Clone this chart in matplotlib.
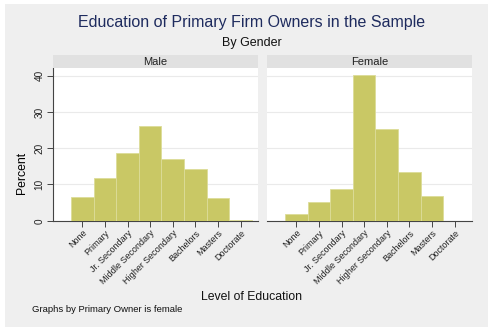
import numpy as np
import matplotlib
matplotlib.use("Agg")
import matplotlib.pyplot as plt
from matplotlib.patches import Rectangle

plt.rcParams['font.family'] = ['Liberation Sans', 'DejaVu Sans']

levels = ['None', 'Primary', 'Jr. Secondary', 'Middle Secondary',
          'Higher Secondary', 'Bachelors', 'Masters', 'Doctorate']
male_pct = [6.6, 11.7, 18.6, 26.2, 17.0, 14.3, 6.2, 0.3]
female_pct = [1.8, 5.1, 8.7, 40.2, 25.2, 13.4, 6.8, 0.0]
panels = ['Male', 'Female']
yticks = [0, 10, 20, 30, 40]

W, H = 495, 335
fig = plt.figure(figsize=(W / 100, H / 100), dpi=100)
fig.patch.set_facecolor('white')

# gray graph region
fig.patches.append(Rectangle((5 / W, 1 - 327 / H), 483 / W, 323 / H,
                             transform=fig.transFigure, facecolor='#efefef',
                             edgecolor='none', zorder=-10))

bar_color = '#c9c865'
lefts = [53, 267]

for i, vals in enumerate([male_pct, female_pct]):
    x0 = lefts[i] / W
    w = 205 / W
    ax = fig.add_axes([x0, 1 - 220.7 / H, w, (220.7 - 68) / H])
    ax.set_facecolor('white')
    x = np.arange(len(levels))
    ax.bar(x, vals, width=1.0, color=bar_color, edgecolor='#dcdc98',
           linewidth=0.6, zorder=3)
    ax.set_xlim(-1.3, 7.77)
    ax.set_ylim(0, 42.1)
    ax.set_yticks(yticks)
    ax.grid(axis='y', color='#eaeaea', linewidth=0.8, zorder=0)
    ax.set_axisbelow(True)
    ax.set_xticks(x)
    ax.set_xticklabels(levels, rotation=45, ha='right', rotation_mode='anchor',
                       fontsize=6.5, color='#222222')
    for s in ['top', 'right']:
        ax.spines[s].set_visible(False)
    ax.spines['bottom'].set_color('#444444')
    ax.spines['bottom'].set_linewidth(0.8)
    ax.tick_params(axis='x', length=4, width=0.7, color='#444444', pad=1.5)
    if i == 0:
        ax.spines['left'].set_color('#444444')
        ax.spines['left'].set_linewidth(0.8)
        ax.set_yticklabels([str(t) for t in yticks], rotation=90, va='center',
                           fontsize=7.2, color='#222222')
        ax.tick_params(axis='y', length=4, width=0.7, color='#444444', pad=2)
        ax.set_ylabel('Percent', fontsize=8.8)
        ax.yaxis.set_label_coords(-0.122, 0.31)
    else:
        ax.spines['left'].set_visible(False)
        ax.tick_params(axis='y', length=0, labelleft=False)

    # strip header
    sax = fig.add_axes([x0, 1 - 68 / H, w, 13 / H])
    sax.set_facecolor('#e1e1e1')
    sax.set_xticks([])
    sax.set_yticks([])
    for s in sax.spines.values():
        s.set_visible(False)
    sax.text(0.5, 0.45, panels[i], ha='center', va='center', fontsize=8,
             color='#222222', transform=sax.transAxes)

fig.text(252 / W, 1 - 22 / H, 'Education of Primary Firm Owners in the Sample',
         ha='center', va='center', fontsize=11.5, color='#1e2b5e')
fig.text(252 / W, 1 - 43 / H, 'By Gender', ha='center', va='center',
         fontsize=9, color='#111111')
fig.text(252 / W, 1 - 297 / H, 'Level of Education', ha='center', va='center',
         fontsize=8.8, color='#111111')
fig.text(32 / W, 1 - 309 / H, 'Graphs by Primary Owner is female', ha='left',
         va='center', fontsize=6.8, color='#111111')

fig.savefig('out.png', dpi=100, facecolor='white')
